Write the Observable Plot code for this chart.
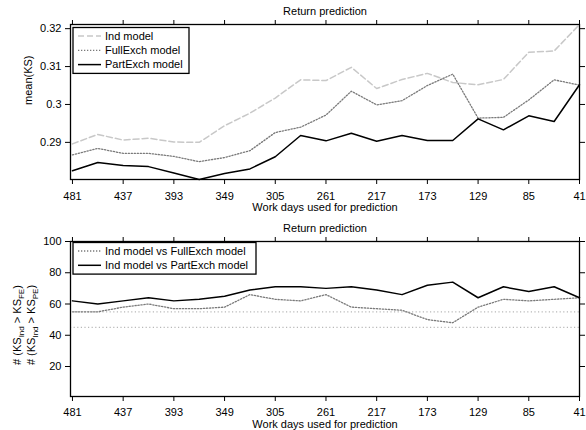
<!DOCTYPE html>
<html><head><meta charset="utf-8">
<script src="https://cdn.jsdelivr.net/npm/d3@7"></script>
<script src="https://cdn.jsdelivr.net/npm/@observablehq/plot@0.6"></script>
<style>
body{margin:0;background:#fff;font-family:"Liberation Sans",Arial,sans-serif;}
#wrap{width:586px;height:430px;}
svg{display:block;}
</style></head><body><div id="wrap"></div>
<script>
// ---- data ----
const days = [481,459,437,415,393,371,349,327,305,283,261,239,217,195,173,151,129,107,85,63,41];
const indKS  = [0.2896,0.2921,0.2906,0.2911,0.2901,0.2900,0.2944,0.2977,0.3017,0.3065,0.3063,0.3098,0.3042,0.3066,0.3082,0.3058,0.3052,0.3066,0.3138,0.3141,0.3211];
const fullKS = [0.2867,0.2884,0.2871,0.2871,0.2863,0.2849,0.2860,0.2878,0.2926,0.2940,0.2972,0.3035,0.2999,0.3010,0.3050,0.3080,0.2964,0.2966,0.3012,0.3065,0.3051];
const partKS = [0.2825,0.2847,0.2839,0.2836,0.2819,0.2802,0.2818,0.2830,0.2862,0.2918,0.2904,0.2924,0.2903,0.2918,0.2905,0.2905,0.2962,0.2933,0.2970,0.2955,0.3052];
const fullCount = [55,55,58,60,57,57,58,66,63,62,66,58,57,56,50,48,58,63,62,63,64];
const partCount = [62,60,62,64,62,63,65,69,71,71,70,71,69,66,72,74,64,71,68,71,64];
const refLines = [55,45];
const xTicks = [481,437,393,349,305,261,217,173,129,85,41];
const yTicksTop = [0.29,0.30,0.31,0.32];
const yTicksBottom = [20,40,60,80,100];
const topLegend = ["Ind model","FullExch model","PartExch model"];
const bottomLegend = ["Ind model vs FullExch model","Ind model vs PartExch model"];
const title = "Return prediction";
const xLabel = "Work days used for prediction";

const FONT = '"Liberation Sans", Arial, Helvetica, sans-serif';
const sty = {
  ind:  {stroke:"#c8c8c8", strokeWidth:1.5, strokeDasharray:"6,3"},
  full: {stroke:"#7a7a7a", strokeWidth:1.3, strokeDasharray:"1.3,1.7"},
  part: {stroke:"#000", strokeWidth:1.5, strokeDasharray:null},
  ref:  {stroke:"#b8b8b8", strokeWidth:1.2, strokeDasharray:"1.2,2.4"}
};
const pts = (vals) => days.map((d,i)=>({d, v:vals[i]}));

function axes(yTicks, yFmt, pad){
  return [
    Plot.axisX({ticks:xTicks, anchor:"bottom", tickSize:5, tickPadding:pad, tickFormat:d=>String(d), label:null, fontSize:11}),
    Plot.axisX({ticks:xTicks, anchor:"top", tickSize:5, tickFormat:()=>"", label:null}),
    Plot.axisY({ticks:yTicks, anchor:"left", tickSize:5, tickPadding:4, tickFormat:yFmt, label:null, fontSize:11}),
    Plot.axisY({ticks:yTicks, anchor:"right", tickSize:5, tickFormat:()=>"", label:null}),
  ];
}
function labels(labelDy){
  return [
    Plot.text([title], {frameAnchor:"top", dy:-17, fontSize:11, fill:"#000"}),
    Plot.text([xLabel], {frameAnchor:"bottom", dy:labelDy, fontSize:11, fill:"#000"}),
  ];
}
function line(vals, s){
  return Plot.lineY(pts(vals), {x:"d", y:"v", stroke:s.stroke, strokeWidth:s.strokeWidth, strokeDasharray:s.strokeDasharray});
}
function addLegend(svg, items, styles, boxW){
  const g = d3.select(svg).append("g").attr("font-family", FONT).attr("font-size", 11).attr("text-anchor","start");
  const x0 = 73, y0 = 27.5, rowH = 14.3;
  const h = items.length*rowH + 3;
  g.append("rect").attr("x",x0).attr("y",y0).attr("width",boxW).attr("height",h)
    .attr("fill","#fff").attr("stroke","#000").attr("stroke-width",1.3);
  items.forEach((t,i)=>{
    const cy = y0 + 8.5 + i*rowH;
    const s = styles[i];
    g.append("line").attr("x1",x0+5).attr("x2",x0+28).attr("y1",cy).attr("y2",cy)
      .attr("stroke",s.stroke).attr("stroke-width",s.strokeWidth)
      .attr("stroke-dasharray",s.strokeDasharray);
    g.append("text").attr("x",x0+32).attr("y",cy).attr("dy","0.35em").attr("fill","#000").attr("text-anchor","start").text(t);
  });
}

const common = {width:586, height:215, marginLeft:70, marginRight:7,
  style:{fontFamily:FONT, fontSize:"11px", color:"#000", background:"#fff", overflow:"visible"}};

const topPlot = Plot.plot({
  ...common, marginTop:24, marginBottom:36,
  x:{type:"linear", domain:[482.7,41]},
  y:{domain:[0.2802,0.3211]},
  marks:[
    ...axes(yTicksTop, d=>String(+d.toFixed(2)), 8),
    line(indKS, sty.ind),
    line(fullKS, sty.full),
    line(partKS, sty.part),
    Plot.frame({stroke:"#000", strokeWidth:1.3}),
    ...labels(31.5),
    Plot.text(["mean(KS)"], {frameAnchor:"left", rotate:-90, dx:-42, dy:3, fontSize:11, fill:"#000"}),
  ]
});
addLegend(topPlot, topLegend, [sty.ind, sty.full, sty.part], 116);

const bottomPlot = Plot.plot({
  ...common, marginTop:26, marginBottom:34,
  x:{type:"linear", domain:[482.7,41]},
  y:{domain:[0.8,100]},
  marks:[
    ...axes(yTicksBottom, d=>String(d), 7),
    Plot.ruleY(refLines, {stroke:sty.ref.stroke, strokeWidth:sty.ref.strokeWidth, strokeDasharray:sty.ref.strokeDasharray}),
    line(fullCount, sty.full),
    line(partCount, sty.part),
    Plot.frame({stroke:"#000", strokeWidth:1.3}),
    ...labels(31),
  ]
});
addLegend(bottomPlot, bottomLegend, [sty.full, sty.part], 183);
// two-line y label with subscripts
(function(){
  const g = d3.select(bottomPlot).append("g").attr("font-family", FONT).attr("font-size", 11).attr("fill","#000");
  const rows = [["Ind","FE",21],["Ind","PE",35]];
  rows.forEach(([a,b,x])=>{
    const t = g.append("text").attr("transform",`translate(${x},110) rotate(-90)`).attr("text-anchor","middle");
    t.append("tspan").text("# (KS");
    t.append("tspan").attr("dy",3).attr("font-size",8).text(a);
    t.append("tspan").attr("dy",-3).text(" > KS");
    t.append("tspan").attr("dy",3).attr("font-size",8).text(b);
    t.append("tspan").attr("dy",-3).text(")");
  });
})();

document.getElementById("wrap").append(topPlot, bottomPlot);
</script>
</body></html>
